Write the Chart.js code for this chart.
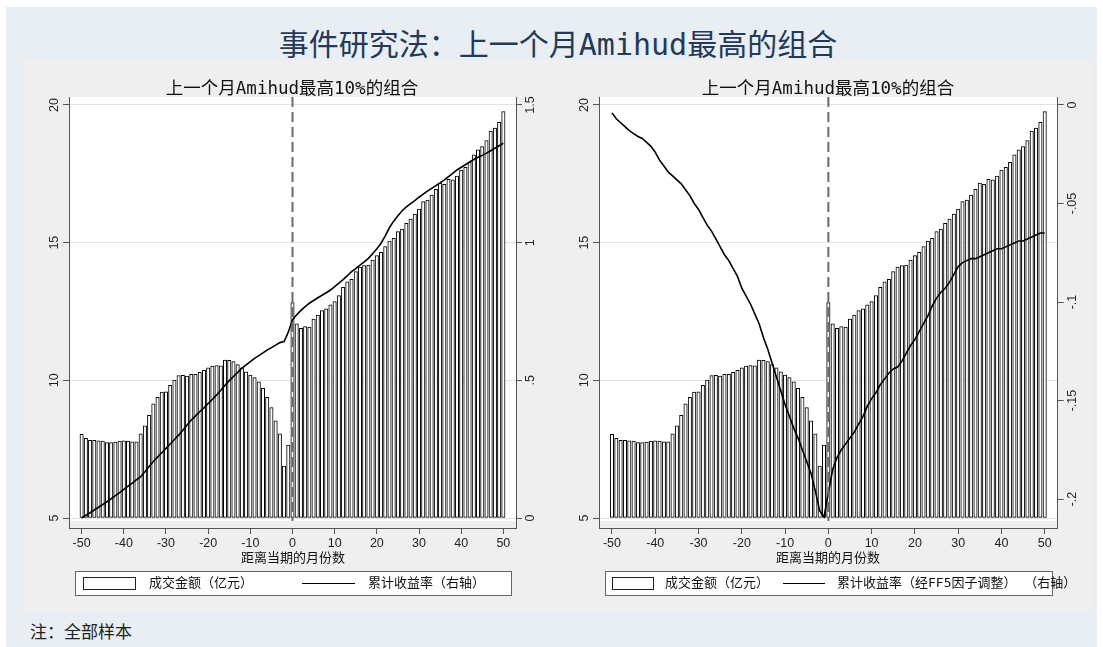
<!DOCTYPE html>
<html>
<head>
<meta charset="utf-8">
<script src="https://cdn.jsdelivr.net/npm/chart.js@4.4.0/dist/chart.umd.min.js"></script>
<style>
  body { margin: 0; width: 1103px; height: 647px; background: #fff; position: relative; overflow: hidden;
         font-family: "DejaVu Sans Mono", "Noto Sans CJK SC", sans-serif; }
  #frame { position: absolute; left: 6px; top: 7px; width: 1091px; height: 640px; background: #e8eef1; }
  #title { position: absolute; left: 0; top: 25px; width: 1116px; text-align: center; font-size: 30px;
           line-height: 40px; color: #1f3a5c; white-space: nowrap; }
  #panel { position: absolute; left: 22px; top: 60px; width: 1071px; height: 552px; background: #efefef; }
  canvas { position: absolute; top: 60px; }
  .sub { position: absolute; top: 77px; width: 460px; text-align: center; font-size: 17.5px; line-height: 22px;
         color: #111; white-space: nowrap; }
  .xtitle { position: absolute; top: 549px; width: 300px; text-align: center; font-size: 13px; line-height: 18px;
            color: #111; white-space: nowrap; }
  .legend { position: absolute; top: 571px; height: 23px; background: #fff; border: 1px solid #666; }
  .kbar { position: absolute; top: 577px; height: 11px; background: #fff; border: 1px solid #222; }
  .kline { position: absolute; top: 583px; height: 0; border-top: 1.6px solid #000; }
  .ltxt { position: absolute; top: 574px; font-size: 13px; line-height: 18px; color: #111; white-space: pre; }
  #note { position: absolute; left: 30px; top: 620px; font-size: 17px; line-height: 22px; color: #222;
          font-family: "Noto Sans CJK SC", sans-serif; }
</style>
</head>
<body>
<div id="frame"></div>
<div id="title">事件研究法：上一个月Amihud最高的组合</div>
<div id="panel"></div>

<canvas id="chartLeft" width="538" height="552" style="left:22px"></canvas>
<canvas id="chartRight" width="533" height="552" style="left:560px"></canvas>

<div class="sub" style="left:62px">上一个月Amihud最高10%的组合</div>
<div class="sub" style="left:598px">上一个月Amihud最高10%的组合</div>

<div class="xtitle" style="left:143px">距离当期的月份数</div>
<div class="xtitle" style="left:678px">距离当期的月份数</div>

<div class="legend" style="left:75px; width:435px"></div>
<div class="kbar" style="left:83px; width:51px"></div>
<div class="ltxt" style="left:149px">成交金额（亿元）</div>
<div class="kline" style="left:302px; width:53px"></div>
<div class="ltxt" style="left:368px">累计收益率（右轴）</div>

<div class="legend" style="left:605px; width:446px"></div>
<div class="kbar" style="left:612px; width:40px"></div>
<div class="ltxt" style="left:665px">成交金额（亿元）</div>
<div class="kline" style="left:783px; width:42px"></div>
<div class="ltxt" style="left:837px; word-spacing:0px">累计收益率（经FF5因子调整） （右轴）</div>

<div id="note">注：全部样本</div>

<script>
// Months relative to the event month
const months = [
  -50, -49, -48, -47, -46, -45, -44, -43, -42, -41,
  -40, -39, -38, -37, -36, -35, -34, -33, -32, -31,
  -30, -29, -28, -27, -26, -25, -24, -23, -22, -21,
  -20, -19, -18, -17, -16, -15, -14, -13, -12, -11,
  -10, -9, -8, -7, -6, -5, -4, -3, -2, -1,
  0, 1, 2, 3, 4, 5, 6, 7, 8, 9,
  10, 11, 12, 13, 14, 15, 16, 17, 18, 19,
  20, 21, 22, 23, 24, 25, 26, 27, 28, 29,
  30, 31, 32, 33, 34, 35, 36, 37, 38, 39,
  40, 41, 42, 43, 44, 45, 46, 47, 48, 49,
  50
];

// Trading value (亿元), same for both panels
const turnover = [
  8.04, 7.89, 7.82, 7.82, 7.80, 7.79, 7.74, 7.74, 7.76, 7.79,
  7.80, 7.79, 7.77, 7.77, 8.06, 8.35, 8.73, 9.15, 9.38, 9.57,
  9.58, 9.82, 10.01, 10.17, 10.18, 10.15, 10.22, 10.22, 10.29, 10.36,
  10.45, 10.52, 10.54, 10.53, 10.74, 10.73, 10.68, 10.57, 10.45, 10.31,
  10.19, 10.10, 9.95, 9.71, 9.38, 9.01, 8.53, 8.06, 6.89, 7.65,
  12.82, 12.05, 11.89, 11.95, 11.93, 12.22, 12.37, 12.53, 12.60, 12.74,
  12.86, 13.08, 13.38, 13.58, 13.67, 13.95, 14.11, 14.17, 14.19, 14.37,
  14.53, 14.65, 14.86, 15.06, 15.16, 15.40, 15.49, 15.70, 15.86, 16.04,
  16.22, 16.49, 16.55, 16.73, 16.94, 17.16, 17.12, 17.30, 17.28, 17.42,
  17.64, 17.74, 17.92, 18.19, 18.37, 18.49, 18.71, 19.05, 19.16, 19.37,
  19.76
];

// Cumulative return (raw)
const cumReturn = [
  0.000, 0.010, 0.019, 0.029, 0.039, 0.049, 0.059, 0.070, 0.081, 0.092,
  0.104, 0.116, 0.127, 0.139, 0.150, 0.168, 0.187, 0.205, 0.221, 0.237,
  0.253, 0.269, 0.285, 0.301, 0.319, 0.338, 0.356, 0.371, 0.386, 0.400,
  0.416, 0.431, 0.447, 0.464, 0.482, 0.499, 0.514, 0.529, 0.544, 0.556,
  0.568, 0.580, 0.590, 0.600, 0.610, 0.619, 0.628, 0.637, 0.641, 0.675,
  0.720, 0.738, 0.754, 0.768, 0.780, 0.790, 0.800, 0.809, 0.818, 0.828,
  0.840, 0.853, 0.866, 0.880, 0.895, 0.906, 0.918, 0.930, 0.943, 0.960,
  0.978, 0.998, 1.025, 1.055, 1.078, 1.098, 1.116, 1.130, 1.142, 1.153,
  1.165, 1.176, 1.187, 1.197, 1.207, 1.217, 1.228, 1.240, 1.252, 1.264,
  1.274, 1.283, 1.293, 1.302, 1.310, 1.317, 1.325, 1.334, 1.343, 1.352,
  1.361
];

// Cumulative return adjusted by the FF5 factors
const cumReturnFF5 = [
  -0.004, -0.007, -0.009, -0.011, -0.013, -0.0145, -0.016, -0.017, -0.019, -0.021,
  -0.024, -0.028, -0.031, -0.034, -0.036, -0.038, -0.040, -0.043, -0.046, -0.050,
  -0.053, -0.057, -0.061, -0.064, -0.068, -0.072, -0.076, -0.079, -0.083, -0.087,
  -0.093, -0.097, -0.101, -0.106, -0.111, -0.118, -0.124, -0.131, -0.138, -0.145,
  -0.152, -0.158, -0.164, -0.169, -0.175, -0.181, -0.187, -0.196, -0.206, -0.209,
  -0.197, -0.185, -0.179, -0.175, -0.172, -0.169, -0.166, -0.162, -0.158, -0.153,
  -0.149, -0.146, -0.142, -0.139, -0.136, -0.134, -0.133, -0.130, -0.126, -0.122,
  -0.119, -0.115, -0.111, -0.107, -0.102, -0.098, -0.095, -0.093, -0.090, -0.086,
  -0.082, -0.080, -0.079, -0.078, -0.078, -0.077, -0.076, -0.075, -0.074, -0.073,
  -0.073, -0.072, -0.071, -0.070, -0.069, -0.069, -0.068, -0.067, -0.066, -0.065,
  -0.065
];

// Axis ticks and their printed labels
const xTicks = [-50, -40, -30, -20, -10, 0, 10, 20, 30, 40, 50];
const leftTicks = [5, 10, 15, 20];
const leftTickText = ['5', '10', '15', '20'];
const retTicks = [0, 0.5, 1, 1.5];
const retTickText = ['0', '.5', '1', '1.5'];
const ff5Ticks = [-0.2, -0.15, -0.1, -0.05, 0];
const ff5TickText = ['-.2', '-.15', '-.1', '-.05', '0'];

const TICK_FONT = '12.5px "Liberation Sans", Arial, sans-serif';
const AXIS_COLOR = '#555';

// White plot region ending a few pixels above the x axis line
const plotRegion = {
  id: 'plotRegion',
  beforeDraw(chart) {
    const { ctx, chartArea } = chart;
    const bottom = chart.scales.y.getPixelForValue(5) + 3;
    ctx.save();
    ctx.fillStyle = '#ffffff';
    ctx.fillRect(chartArea.left, chartArea.top, chartArea.right - chartArea.left, bottom - chartArea.top);
    ctx.restore();
  }
};

// Dashed marker at the event month
const eventLine = {
  id: 'eventLine',
  afterDatasetsDraw(chart) {
    const { ctx, chartArea } = chart;
    const x = chart.scales.x.getPixelForValue(0);
    const bottom = chart.scales.y.getPixelForValue(5) + 3;
    ctx.save();
    ctx.strokeStyle = '#6a6a6a';
    ctx.lineWidth = 2;
    ctx.setLineDash([10, 5]);
    ctx.beginPath();
    ctx.moveTo(x, chartArea.top);
    ctx.lineTo(x, bottom);
    ctx.stroke();
    ctx.restore();
  }
};

// Vertical (rotated) tick labels on both y axes
const rotatedYLabels = {
  id: 'rotatedYLabels',
  afterDraw(chart, args, opts) {
    const ctx = chart.ctx;
    ctx.save();
    ctx.font = TICK_FONT;
    ctx.fillStyle = '#222';
    ctx.textAlign = 'center';
    ctx.textBaseline = 'middle';
    ['y', 'y1'].forEach(id => {
      const s = chart.scales[id];
      const texts = opts[id];
      s.ticks.forEach((t, i) => {
        const py = s.getPixelForValue(t.value);
        const px = id === 'y' ? s.right - 6 - 8 : s.left + 6 + 9;
        ctx.save();
        ctx.translate(px, py);
        ctx.rotate(-Math.PI / 2);
        ctx.fillText(texts[i], 0, 0);
        ctx.restore();
      });
    });
    ctx.restore();
  }
};

function makeChart(id, lineValues, cfg) {
  const barPoints = months.map((m, i) => ({ x: m, y: turnover[i] }));
  const linePoints = months.map((m, i) => ({ x: m, y: lineValues[i] }));
  return new Chart(document.getElementById(id), {
    type: 'bar',
    data: {
      datasets: [
        {
          type: 'line',
          data: linePoints,
          yAxisID: 'y1',
          borderColor: '#000',
          borderWidth: 1.6,
          pointRadius: 0,
          tension: 0,
          order: 1
        },
        {
          type: 'bar',
          data: barPoints,
          yAxisID: 'y',
          base: 5,
          backgroundColor: '#ffffff',
          borderColor: '#000',
          borderWidth: 1,
          borderSkipped: false,
          barThickness: 3.4,
          order: 2
        }
      ]
    },
    options: {
      responsive: false,
      animation: false,
      devicePixelRatio: 1,
      layout: { padding: { top: 37, left: 0, right: 0, bottom: 0 } },
      plugins: {
        legend: { display: false },
        tooltip: { enabled: false },
        title: { display: false },
        rotatedYLabels: { y: leftTickText, y1: cfg.tickText }
      },
      scales: {
        x: {
          type: 'linear',
          offset: false,
          min: -53,
          max: 53,
          afterBuildTicks: s => { s.ticks = xTicks.map(v => ({ value: v })); },
          afterFit: s => { s.height = 84; },
          grid: { offset: false, drawOnChartArea: false, tickLength: 6, tickColor: AXIS_COLOR },
          border: { color: AXIS_COLOR, width: 1 },
          ticks: { autoSkip: false, maxRotation: 0, padding: 2, color: '#222',
                   font: { family: '"Liberation Sans", Arial, sans-serif', size: 12.5 } }
        },
        y: {
          position: 'left',
          min: 4.637,
          max: 20.29,
          afterBuildTicks: s => { s.ticks = leftTicks.map(v => ({ value: v })); },
          afterFit: s => { s.width = cfg.leftWidth; },
          grid: { color: '#e3e3e3', tickLength: 6, tickColor: AXIS_COLOR },
          border: { color: AXIS_COLOR, width: 1 },
          ticks: { display: false }
        },
        y1: {
          position: 'right',
          min: cfg.min,
          max: cfg.max,
          afterBuildTicks: s => { s.ticks = cfg.ticks.map(v => ({ value: v })); },
          afterFit: s => { s.width = cfg.rightWidth; },
          grid: { drawOnChartArea: false, tickLength: 6, tickColor: AXIS_COLOR },
          border: { color: AXIS_COLOR, width: 1 },
          ticks: { display: false }
        }
      }
    },
    plugins: [plotRegion, eventLine, rotatedYLabels]
  });
}

makeChart('chartLeft', cumReturn, {
  min: -0.0363, max: 1.529, ticks: retTicks, tickText: retTickText, leftWidth: 47, rightWidth: 44
});
makeChart('chartRight', cumReturnFF5, {
  min: -0.2147, max: 0.00406, ticks: ff5Ticks, tickText: ff5TickText, leftWidth: 39, rightWidth: 35.3
});
</script>
</body>
</html>
